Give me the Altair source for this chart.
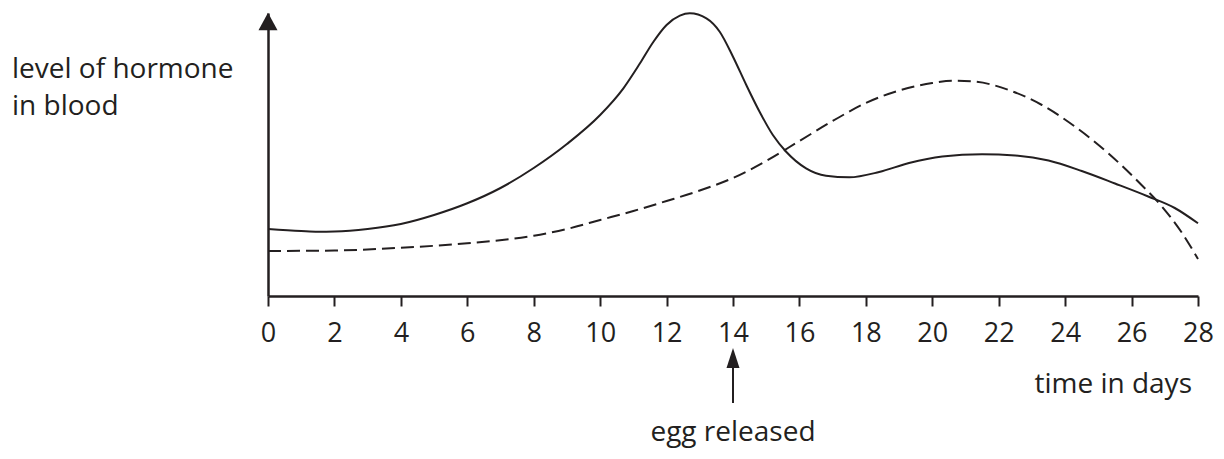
import altair as alt
import pandas as pd

# ---- data ----
solid_days = [0, 1, 1.5, 2, 3, 4, 5, 6, 7, 8, 9, 10, 10.7, 11.2, 11.6, 12.0, 12.4, 12.7,
              13.2, 13.6, 14.0, 14.4, 14.8, 15.2, 15.6, 16.2, 16.8, 17.5, 18.4, 19.3,
              20.3, 21.5, 22.5, 23.5, 24.5, 25.5, 26.5, 27.3, 28]
solid_level = [67, 65, 64.3, 64.5, 67, 72, 81, 92.7, 108, 128, 152, 181, 207.7, 232.7, 254,
               271, 280.3, 282.7, 277.7, 264.3, 239.3, 211, 184.3, 161, 144.3, 127.7, 120.3,
               118.7, 124, 133, 139.5, 141.8, 140.5, 135.5, 125, 112.5, 99.5, 88, 72.7]

dashed_days = [0, 2, 4, 6, 8, 9, 10, 11, 12, 13, 14, 15, 16, 17, 18, 19, 20, 20.6, 21.3,
               22.3, 23.3, 24.3, 25.3, 26.3, 26.9, 27.5, 28]
dashed_level = [45, 45.5, 48.3, 52.7, 60.3, 67, 76, 85, 95, 105.5, 118, 135, 155, 175, 193,
                205.5, 213, 215.3, 214.3, 206, 191, 169.3, 142.7, 111, 90, 64, 37]

tick_values = list(range(0, 29, 2))
egg_day = [14]
egg_label = ["egg released"]
y_title_lines = ["level of hormone", "in blood"]
x_title = ["time in days"]

INK = "#231f20"
FONT = "Open Sans"

solid_df = pd.DataFrame({"day": solid_days, "level": solid_level})
dashed_df = pd.DataFrame({"day": dashed_days, "level": dashed_level})
egg_df = pd.DataFrame({"day": egg_day, "label": egg_label})

xscale = alt.Scale(domain=[0, 28], nice=False, zero=False)
yscale = alt.Scale(domain=[0, 283], nice=False)
xaxis = alt.Axis(values=tick_values, title=None, grid=False, tickSize=10, tickWidth=2,
                 tickColor=INK, domainColor=INK, domainWidth=2.5, labelFontSize=27,
                 labelFont=FONT, labelColor=INK, labelPadding=14, labelFlush=False,
                 labelOverlap=False, format="d")
yaxis = alt.Axis(title=None, grid=False, ticks=False, labels=False, domain=True,
                 domainColor=INK, domainWidth=2.5)


def X():
    return alt.X("day:Q", scale=xscale, axis=xaxis)


solid = alt.Chart(solid_df).mark_line(interpolate="monotone", color=INK, strokeWidth=2).encode(
    x=X(), y=alt.Y("level:Q", scale=yscale, axis=yaxis))
dashed = alt.Chart(dashed_df).mark_line(interpolate="monotone", color=INK, strokeWidth=2,
                                        strokeDash=[13, 6]).encode(
    x=X(), y=alt.Y("level:Q", scale=yscale, axis=yaxis))

# arrowhead on top of y-axis
y_arrow = alt.Chart(pd.DataFrame({"label": ["y"]})).mark_point(
    shape="M0,-1L1.1,1L-1.1,1Z", filled=True, size=300, color=INK, opacity=1).encode(
    x=alt.value(0), y=alt.value(8.5))

# egg released arrow
egg_rule = alt.Chart(egg_df).mark_rule(color=INK, strokeWidth=2).encode(
    x=X(), y=alt.value(353), y2=alt.value(390))
egg_head = alt.Chart(egg_df).mark_point(
    shape="M0,-1L0.65,1L-0.65,1Z", filled=True, size=400, color=INK, opacity=1).encode(
    x=X(), y=alt.value(345))
egg_text = alt.Chart(egg_df).mark_text(font=FONT, fontSize=28, color=INK, align="center",
                                       baseline="alphabetic").encode(
    x=X(), y=alt.value(428), text="label:N")

ytitle1 = alt.Chart(pd.DataFrame({"t": [y_title_lines[0]]})).mark_text(
    font=FONT, fontSize=28, color=INK, align="left", baseline="alphabetic").encode(
    x=alt.value(-256), y=alt.value(65), text="t:N")
ytitle2 = alt.Chart(pd.DataFrame({"t": [y_title_lines[1]]})).mark_text(
    font=FONT, fontSize=28, color=INK, align="left", baseline="alphabetic").encode(
    x=alt.value(-256), y=alt.value(102), text="t:N")
xtitle = alt.Chart(pd.DataFrame({"t": x_title})).mark_text(
    font=FONT, fontSize=28, color=INK, align="right", baseline="alphabetic").encode(
    x=alt.value(924), y=alt.value(380), text="t:N")

chart = alt.layer(solid, dashed, y_arrow, egg_rule, egg_head, egg_text, ytitle1, ytitle2,
                  xtitle).properties(
    width=930, height=283,
    autosize=alt.AutoSizeParams(type="none"),
    padding={"left": 260, "top": 5, "right": 18, "bottom": 155},
    background="white",
).configure_view(stroke=None)

chart.save("out.html", embed_options={"renderer": "svg", "actions": False})
